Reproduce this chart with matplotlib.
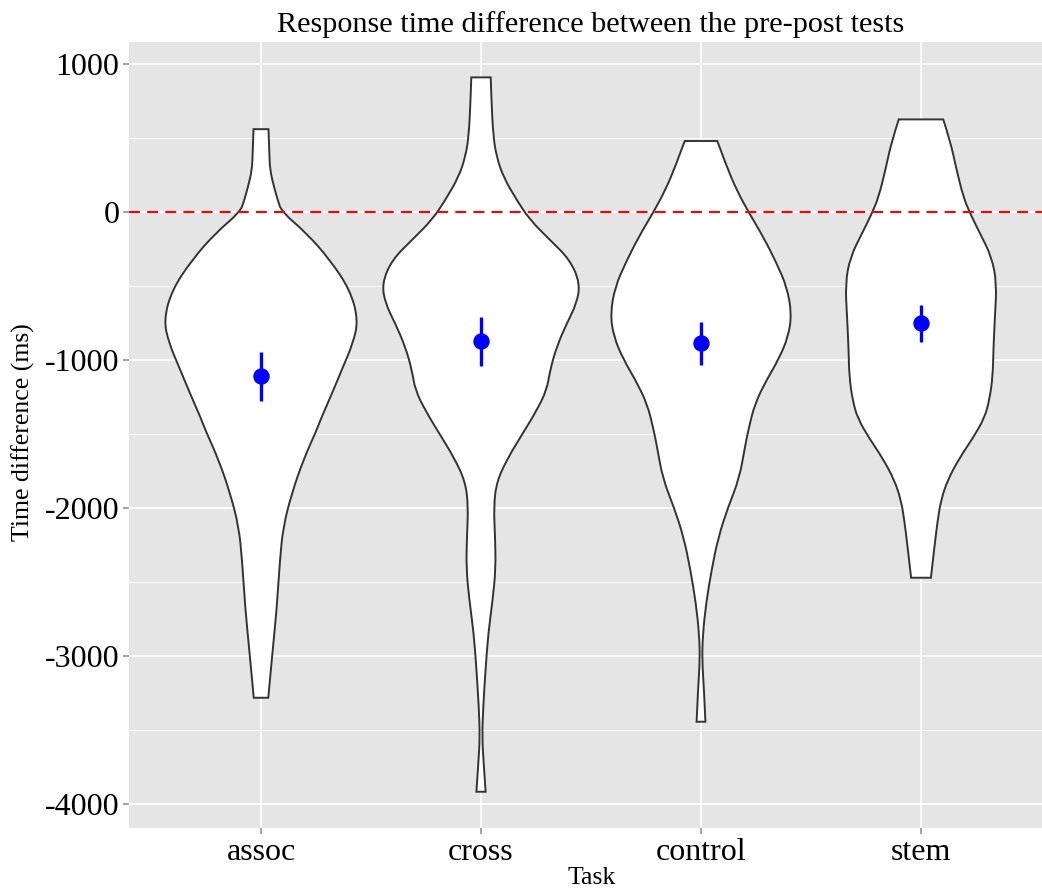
import numpy as np
import matplotlib
matplotlib.use("Agg")
import matplotlib.pyplot as plt
from matplotlib.path import Path
from matplotlib.patches import PathPatch
from matplotlib.ticker import FixedLocator

tasks = ["assoc", "cross", "control", "stem"]

# violin outlines: response-time difference (ms) and half-width of the density
assoc_y = [560, 397, 284, 171, 81, 2, -144, -324, -527, -730, -887, -1045, -1225,
           -1394, -1473, -1676, -1901, -2126, -2351, -2689, -2914, -3282]
assoc_w = [0.034, 0.038, 0.041, 0.059, 0.076, 0.094, 0.208, 0.314, 0.405, 0.442, 0.418,
           0.373, 0.323, 0.273, 0.253, 0.192, 0.140, 0.101, 0.086, 0.071, 0.056, 0.033]

cross_y = [910, 734, 509, 374, 239, 81, -54, -189, -324, -482, -617, -752, -910, -1068,
           -1203, -1349, -1507, -1664, -1822, -1991, -2194, -2407, -2622, -2847, -3083,
           -3342, -3545, -3725, -3917]
cross_w = [0.044, 0.048, 0.056, 0.071, 0.101, 0.162, 0.223, 0.314, 0.405, 0.450, 0.435,
           0.390, 0.344, 0.314, 0.299, 0.250, 0.185, 0.121, 0.071, 0.058, 0.064, 0.067,
           0.053, 0.033, 0.021, 0.010, 0.005, 0.012, 0.021]

control_y = [480, 306, 149, 2, -167, -347, -505, -685, -843, -1000, -1135, -1293, -1473,
             -1586, -1800, -1991, -2194, -2419, -2644, -2858, -3027, -3207, -3444]
control_w = [0.074, 0.117, 0.162, 0.215, 0.283, 0.344, 0.390, 0.412, 0.397, 0.351, 0.298,
             0.245, 0.215, 0.200, 0.174, 0.124, 0.079, 0.048, 0.023, 0.008, 0.005, 0.013,
             0.020]

stem_y = [626, 486, 284, 104, -9, -144, -302, -482, -707, -932, -1113, -1270, -1394,
          -1529, -1664, -1811, -1946, -2081, -2261, -2471]
stem_w = [0.101, 0.132, 0.162, 0.192, 0.223, 0.268, 0.321, 0.344, 0.336, 0.329, 0.326,
          0.311, 0.288, 0.235, 0.174, 0.121, 0.091, 0.076, 0.061, 0.045]

# mean and interval per task
means = [-1108, -872, -887, -752]
lower = [-1277, -1038, -1034, -876]
upper = [-944, -707, -745, -628]

yticks = [-4000, -3000, -2000, -1000, 0, 1000]

plt.rcParams["font.family"] = ["Liberation Serif", "DejaVu Serif"]


def smooth(pts):
    # quadratic bezier through midpoints of consecutive points
    verts, codes = [], []
    n = len(pts)
    for i in range(1, n - 1):
        if i == n - 2:
            end = pts[i + 1]
        else:
            end = ((pts[i][0] + pts[i + 1][0]) / 2, (pts[i][1] + pts[i + 1][1]) / 2)
        verts += [pts[i], end]
        codes += [Path.CURVE3, Path.CURVE3]
    return verts, codes


def violin(ax, c, ys, ws):
    right = [(c + w, y) for y, w in zip(ys, ws)]
    left = [(c - w, y) for y, w in zip(ys, ws)][::-1]
    verts = [left[-1], right[0]]
    codes = [Path.MOVETO, Path.LINETO]
    v, k = smooth(right)
    verts += v; codes += k
    verts.append(left[0]); codes.append(Path.LINETO)
    v, k = smooth(left)
    verts += v; codes += k
    verts.append(left[-1]); codes.append(Path.CLOSEPOLY)
    ax.add_patch(PathPatch(Path(verts, codes), facecolor="white",
                           edgecolor="#333333", lw=1.4, zorder=2))


fig = plt.figure(figsize=(10.42, 8.92), dpi=100)
ax = fig.add_axes([129 / 1042, 64 / 892, 913 / 1042, 786 / 892])
ax.set_facecolor("#E5E5E5")
for s in ax.spines.values():
    s.set_visible(False)

ax.set_xlim(-0.6, 3.55)
ax.set_ylim(-4162, 1149)

x = np.arange(len(tasks))
ax.set_xticks(x)
ax.set_xticklabels(tasks, fontsize=23)
ax.set_yticks(yticks)
ax.set_yticklabels([str(t) for t in yticks], fontsize=23)
ax.yaxis.set_minor_locator(FixedLocator([t + 500 for t in yticks[:-1]]))
ax.tick_params(which="major", length=4, width=1.1, color="#888888", pad=3)
ax.tick_params(axis="y", which="minor", length=0)
ax.grid(which="major", color="white", lw=1.2)
ax.grid(which="minor", axis="y", color="white", lw=0.6)
ax.set_axisbelow(True)

for c, ys, ws in zip(x, [assoc_y, cross_y, control_y, stem_y],
                     [assoc_w, cross_w, control_w, stem_w]):
    violin(ax, c, ys, ws)

ax.axhline(0, color="#FF0000", lw=1.5, dashes=(5.3, 3.4), zorder=3)

ax.vlines(x, lower, upper, color="#0000FF", lw=2.4, zorder=4)
ax.plot(x, means, "o", color="#0000FF", ms=10.8, zorder=5)

fig.text(591 / 1042, 1 - 25 / 892, "Response time difference between the pre-post tests",
         ha="center", va="center", fontsize=21.8)
fig.text(592 / 1042, 1 - 878 / 892, "Task", ha="center", va="center", fontsize=18.5)
fig.text(23 / 1042, 1 - 432 / 892, "Time difference (ms)", ha="center", va="center",
         rotation=90, fontsize=18.5)

fig.savefig("out.png", dpi=100)
